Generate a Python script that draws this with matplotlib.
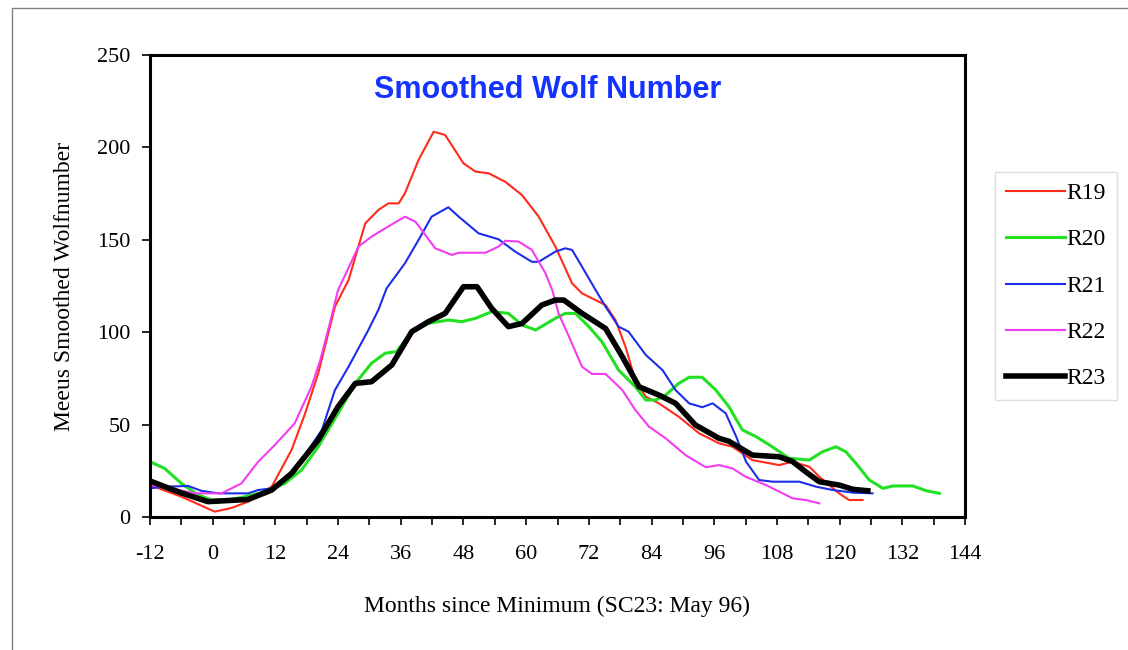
import numpy as np
import matplotlib
matplotlib.use("Agg")
import matplotlib.pyplot as plt
from matplotlib.patches import Rectangle

plt.rcParams["axes.unicode_minus"] = False

# months since minimum, smoothed wolf number
r19_m = [-12, -6, 0.4, 3.6, 6.8, 11.3, 15.1, 17.7, 20.2, 23.4, 26, 29.2, 31.7, 33.6, 35.6, 36.8,
         39.4, 42.3, 44.5, 48, 50.3, 52.8, 56, 59.2, 62.4, 65.6, 68.8, 70.7, 75.2, 77.1, 79,
         80.9, 82.9, 85.4, 89.2, 93.1, 96.9, 99.5, 103.3, 108.4, 111, 114.2, 116.1, 119.9, 121.8, 124.4]
r19_v = [17.3, 11, 2.9, 4.9, 8.3, 16.4, 36.3, 56.1, 77.8, 113.8, 128.2, 158.9, 166.1, 169.7, 169.7, 175.2,
         193.2, 208.5, 206.7, 191.4, 186.9, 186, 181.4, 174.2, 162.5, 146.3, 126.4, 121, 114.7, 106.6, 92.2,
         74.1, 65.1, 61.5, 54.3, 45.3, 39.9, 38, 30.8, 28.1, 29.9, 27.2, 21.8, 12.8, 9.2, 9.2]

r20_m = [-12, -9.2, -6, -2.8, -0.2, 3, 6.2, 10, 13.8, 17, 20.2, 24, 27.3, 30.4, 33, 35.2, 38.1,
         41.3, 45.1, 47.7, 50.3, 53.4, 56.6, 59.2, 61.8, 65.6, 67.5, 69.4, 72, 74.5, 77.7, 80.9,
         82.9, 84.8, 86.7, 89.2, 91.2, 93.7, 96.3, 98.8, 101.4, 104, 107.1, 110.3, 114.2, 116.7,
         119.3, 121.2, 123.1, 125.7, 128.3, 130.2, 134, 136.6, 139.1]
r20_v = [29.9, 26.3, 18.2, 11.9, 9.2, 9.2, 11, 13.7, 18.2, 25.4, 38, 56.1, 72.3, 83.2, 88.6, 89.5, 100.3,
         104.8, 106.6, 105.7, 107.5, 111.1, 110.2, 103.9, 101.2, 107.5, 110.2, 110.2, 103, 94.9, 79.5, 70.5,
         63.3, 63.3, 66, 72.3, 75.6, 75.6, 68.7, 59.7, 47.1, 43.5, 38, 31.8, 30.8, 35.3,
         38, 35.3, 29.1, 20, 15.5, 16.8, 16.8, 14.2, 12.8]

r21_m = [-12, -9.2, -4.7, -2.2, 1, 6.8, 8.7, 11.3, 15.1, 18.3, 20.9, 23.4, 26, 29.8, 31.7, 33.3,
         36.8, 39.4, 41.9, 45.1, 47.1, 50.9, 54.7, 57.9, 61.1, 62.4, 65.6, 67.5, 68.8, 70.7, 73.3,
         75.2, 77.7, 79.6, 82.9, 86.1, 88.6, 91.2, 93.7, 95.7, 98.2, 100.2, 102.1, 104.6, 107.2,
         112.3, 115.5, 118.7, 122.5, 126.3]
r21_v = [15.5, 16.4, 16.8, 14.2, 12.8, 12.8, 14.6, 15.5, 23.6, 36.3, 47.1, 68.7, 81.3, 101.2, 112, 123.8,
         137.3, 149.9, 162.5, 167.6, 162.5, 153.5, 150.3, 143.6, 138.1, 138.1, 143.6, 145.4, 144.5, 135.4, 122.8,
         113.8, 103, 100.3, 87.7, 79.5, 68.7, 61.5, 59.4, 61.5, 56.1, 43.5, 29.9, 20, 19.1,
         19.1, 16.4, 14.6, 13.2, 12.8]

r22_m = [-12, -7.9, -3.4, 1.7, 5.5, 8.7, 11.9, 15.7, 18.9, 20.5, 22.1, 24, 27.9, 30.4, 33, 36.8,
         38.8, 42.6, 45.8, 47.1, 52.2, 54.7, 56, 58.6, 61.1, 63.7, 65, 66.2, 68.2, 70.7, 72.6,
         75.2, 78.4, 80.9, 83.5, 86.7, 90.5, 94.4, 96.9, 99.5, 102, 105.9, 111, 113.5, 116.1]
r22_v = [17.3, 15.5, 12.8, 12.8, 18.2, 29.9, 39, 50.7, 70.5, 84, 101.2, 122.8, 146.3, 151.7, 156.2, 162.5,
         159.8, 145.4, 141.8, 143, 143, 146.3, 149.5, 149, 144.5, 131.9, 122.8, 110.2, 97.6, 81.3, 77.4,
         77.4, 68.7, 57.9, 48.9, 42.6, 33.5, 26.9, 28.1, 26.3, 21.8, 17.3, 10.1, 9.2, 7.4]

r23_m = [-12, -6, -0.9, 6.8, 11.3, 15.1, 20.2, 24, 27.3, 30.4, 34.3, 38.1, 41.3, 44.5, 48, 50.6,
         53.4, 56.6, 59.2, 63, 65.6, 67.2, 70.7, 75.2, 78.4, 81.6, 85.4, 88.6, 92.4, 96.9, 98.8,
         103.3, 108.4, 111, 113.5, 116.1, 119.9, 122.5, 125.4]
r23_v = [19.5, 13, 8.3, 9.5, 14.6, 23.6, 41.7, 59.7, 72.3, 73.2, 82.3, 100.3, 105.7, 110.2, 124.6, 124.6,
         112.9, 103, 104.7, 114.7, 117.4, 117.4, 110.2, 102, 86.8, 70.5, 66, 61.5, 49.8, 42.6, 41,
         33.5, 32.6, 30, 24.5, 19.1, 17.3, 15, 14.2]

names = ["R19", "R20", "R21", "R22", "R23"]
colors = ["#ff2a1a", "#22e022", "#1c2ee6", "#f23cf0", "black"]
widths = [1.5, 2.2, 1.5, 1.5, 4.0]

serif = ["Liberation Serif", "DejaVu Serif"]

fig = plt.figure(figsize=(11.28, 6.5), dpi=100)
ax = fig.add_axes([150 / 1128, 133 / 650, 815 / 1128, 462 / 650])

series = [(r19_m, r19_v), (r20_m, r20_v), (r21_m, r21_v), (r22_m, r22_v), (r23_m, r23_v)]
for i in range(len(names)):
    ax.plot(series[i][0], series[i][1], color=colors[i], linewidth=widths[i], label=names[i])

ax.set_xlim(-12, 144)
ax.set_ylim(0, 250)
ax.set_xticks(np.arange(-12, 145, 12))
ax.set_xticks(np.arange(-12, 145, 6), minor=True)
ax.set_yticks(np.arange(0, 251, 50))
ax.tick_params(axis="both", which="both", direction="out", length=6, width=1.2, color="black")
ax.tick_params(axis="x", which="major", pad=14)
ax.tick_params(axis="y", which="major", pad=8)
for lab in ax.get_xticklabels() + ax.get_yticklabels():
    lab.set_family(serif)
    lab.set_fontsize(16)
for s in ax.spines.values():
    s.set_linewidth(2.2)
    s.set_color("black")

ax.set_xlabel("Months since Minimum (SC23: May 96)", family=serif, fontsize=17, labelpad=23)
ax.set_ylabel("Meeus Smoothed Wolfnumber", family=serif, fontsize=17, labelpad=16)

ax.text(0.488, 0.924, "Smoothed Wolf Number", transform=ax.transAxes, ha="center", va="center",
        family=["Liberation Sans", "DejaVu Sans"], fontweight="bold", fontsize=22, color="#1533ff")

leg = fig.legend(loc="upper left", bbox_to_anchor=(995 / 1128, 1 - 172 / 650),
                 prop={"family": serif, "size": 17}, handlelength=2.5, handletextpad=0.08,
                 labelspacing=1.05, borderpad=0.45, borderaxespad=0, fancybox=False, frameon=True)
leg.get_frame().set_edgecolor("#d8d8d8")
leg.get_frame().set_linewidth(1.0)

# thin outer border of the original picture
fig.patches.append(Rectangle((12 / 1128, -0.05), 1.2, 1 - 8 / 650 + 0.05, transform=fig.transFigure,
                             fill=False, edgecolor="#808080", linewidth=1.0))

fig.savefig("out.png", dpi=100)
